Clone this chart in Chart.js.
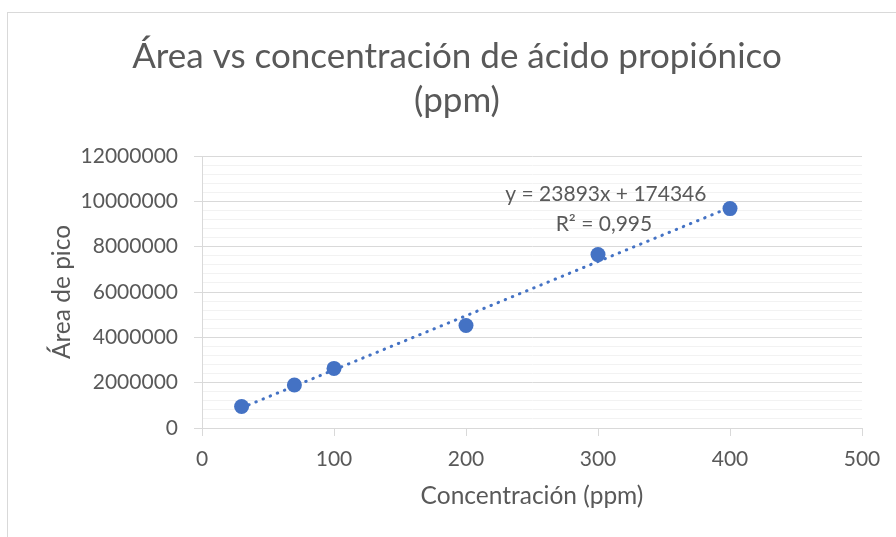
<!DOCTYPE html>
<html>
<head>
<meta charset="utf-8">
<script src="https://cdn.jsdelivr.net/npm/chart.js@4.4.0/dist/chart.umd.min.js"></script>
<style>
    html, body { margin: 0; padding: 0; background: #fff; overflow: hidden; }
    #frame { position: absolute; left: 7px; top: 12px; width: 1000px; height: 1000px; border: 1px solid #d9d9d9; }
    #chart { position: absolute; left: 0; top: 0; }
</style>
</head>
<body>
<div id="frame"></div>
<canvas id="chart" width="896" height="537"></canvas>
<script>
// values
const concentraciones = [30, 70, 100, 200, 300, 400];
const areas = [950000, 1900000, 2630000, 4520000, 7650000, 9680000];

// axis ranges / ticks
const xMin = 0, xMax = 500, xStep = 100;
const yMin = 0, yMax = 12000000, yMajor = 2000000, yMinor = 400000;

// trendline as printed on the chart
const pendiente = 23893;
const intercepto = 174346;
const r2Texto = "0,995";
const etiquetaX = 306, etiquetaY = 10300000;

const tituloLineas = ["Área vs concentración de ácido propiónico", "(ppm)"];

const textColor = "#595959";
const azul = "#4472C4";
const fuente = "Lato";

const puntos = concentraciones.map((c, i) => ({ x: c, y: areas[i] }));
const xIni = Math.min(...concentraciones);
const xFin = Math.max(...concentraciones);
const tendencia = [
    { x: xIni, y: pendiente * xIni + intercepto },
    { x: xFin, y: pendiente * xFin + intercepto }
];

// chart title + equation label
const textos = {
    id: "textos",
    afterDraw(chart) {
        const ctx = chart.ctx;
        ctx.save();
        ctx.fillStyle = textColor;
        ctx.textAlign = "center";
        ctx.textBaseline = "middle";
        ctx.font = `35px ${fuente}`;
        ctx.fillText(tituloLineas[0], 457, 57);
        ctx.fillText(tituloLineas[1], 457, 101);

        const px = chart.scales.x.getPixelForValue(etiquetaX);
        const py = chart.scales.y.getPixelForValue(etiquetaY);
        ctx.font = `21px ${fuente}`;
        ctx.fillText(`y = ${pendiente}x + ${intercepto}`, px, py);
        ctx.fillText(`R² = ${r2Texto}`, px - 2, py + 30);
        ctx.restore();
    }
};

const esMayor = v => v % yMajor === 0;

new Chart(document.getElementById("chart"), {
    type: "scatter",
    data: {
        datasets: [{
            label: "Área",
            data: puntos,
            backgroundColor: azul,
            borderWidth: 0,
            pointRadius: 7.5,
            pointHoverRadius: 7.5
        }, {
            type: "line",
            label: "Lineal",
            data: tendencia,
            borderColor: azul,
            borderWidth: 3,
            borderDash: [0.5, 7.2],
            borderCapStyle: "round",
            pointRadius: 0,
            fill: false
        }]
    },
    options: {
        responsive: false,
        animation: false,
        layout: { padding: { top: 156, right: 34, left: 0, bottom: 0 } },
        plugins: {
            legend: { display: false },
            title: { display: false },
            tooltip: { enabled: false }
        },
        scales: {
            x: {
                type: "linear",
                min: xMin,
                max: xMax,
                afterFit: s => { s.height = 537 - 428; },
                ticks: {
                    stepSize: xStep,
                    color: textColor,
                    font: { family: fuente, size: 21 },
                    padding: 11,
                    callback: v => String(v)
                },
                grid: { drawOnChartArea: false, tickLength: 8, tickColor: "#d9d9d9" },
                border: { color: "#d9d9d9" },
                title: {
                    display: true,
                    text: "Concentración (ppm)",
                    color: textColor,
                    font: { family: fuente, size: 24.5 },
                    padding: { top: 0, bottom: 26 }
                }
            },
            y: {
                min: yMin,
                max: yMax,
                afterFit: s => { s.width = 202; },
                ticks: {
                    stepSize: yMinor,
                    autoSkip: false,
                    color: textColor,
                    font: { family: fuente, size: 21 },
                    padding: 16,
                    callback: v => esMayor(v) ? String(v) : ""
                },
                grid: {
                    color: c => esMayor(c.tick.value) ? "#d9d9d9" : "#f2f2f2",
                    tickColor: c => esMayor(c.tick.value) ? "#d9d9d9" : "rgba(0,0,0,0)",
                    tickLength: 8
                },
                border: { color: "#d9d9d9" },
                title: {
                    display: true,
                    text: "Área de pico",
                    color: textColor,
                    font: { family: fuente, size: 24.5 },
                    padding: { top: 47, bottom: 0 }
                }
            }
        }
    },
    plugins: [textos]
});
</script>
</body>
</html>
